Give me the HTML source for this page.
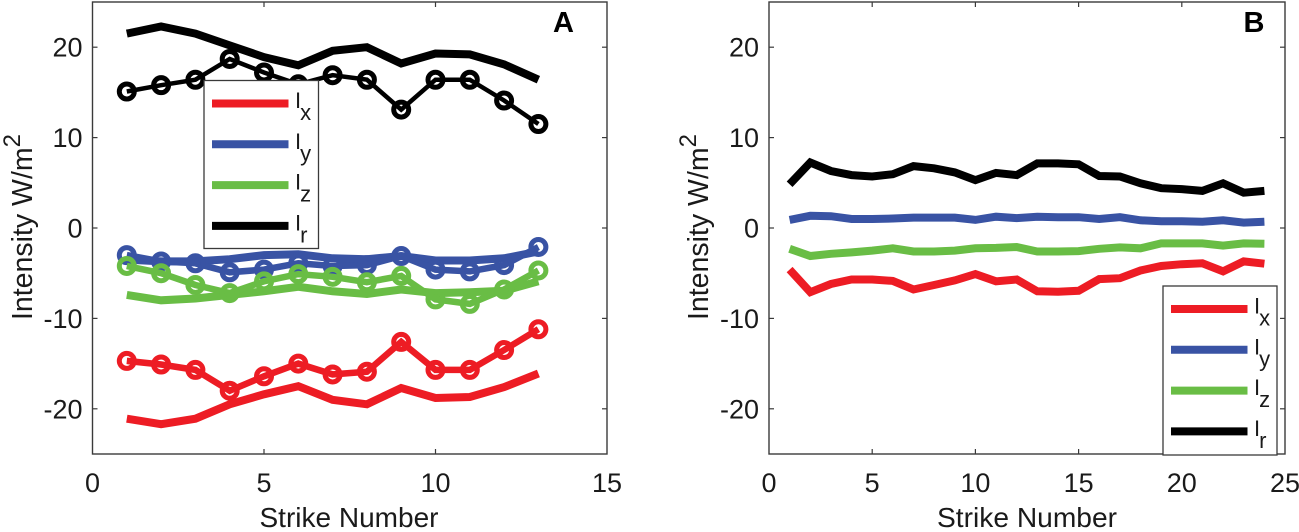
<!DOCTYPE html>
<html>
<head>
<meta charset="utf-8">
<title>Intensity vs Strike Number</title>
<style>
html,body{margin:0;padding:0;background:#fff;width:1299px;height:532px;overflow:hidden}
svg{display:block;font-family:"Liberation Sans",Arial,sans-serif}
</style>
</head>
<body>
<svg id="chart" width="1299" height="532" viewBox="0 0 1299 532" xmlns="http://www.w3.org/2000/svg"></svg>
<script>
// Panel A data
const strikesA = [1,2,3,4,5,6,7,8,9,10,11,12,13];
const aIrPlain = [21.5,22.3,21.5,20.2,18.9,18.0,19.6,20.0,18.2,19.3,19.2,18.1,16.4];
const aIrCircle = [15.1,15.8,16.4,18.7,17.2,15.9,16.9,16.4,13.1,16.4,16.4,14.1,11.5];
const aIyPlain = [-3.5,-3.7,-3.7,-3.45,-3.0,-2.9,-3.35,-3.45,-3.1,-3.6,-3.6,-3.35,-2.6];
const aIyCircle = [-3.0,-3.7,-3.9,-4.9,-4.6,-3.9,-4.2,-4.1,-3.1,-4.6,-4.8,-4.1,-2.1];
const aIzPlain = [-7.4,-8.0,-7.8,-7.4,-7.0,-6.5,-7.0,-7.3,-6.8,-7.2,-7.1,-6.95,-5.9];
const aIzCircle = [-4.2,-5.0,-6.3,-7.2,-5.9,-5.1,-5.4,-6.0,-5.3,-7.9,-8.4,-6.8,-4.7];
const aIxPlain = [-21.1,-21.7,-21.1,-19.5,-18.4,-17.5,-19.0,-19.5,-17.7,-18.8,-18.7,-17.6,-16.1];
const aIxCircle = [-14.7,-15.1,-15.7,-18.0,-16.4,-15.0,-16.2,-15.9,-12.6,-15.7,-15.7,-13.5,-11.2];

// Panel B data
const strikesB = [1,2,3,4,5,6,7,8,9,10,11,12,13,14,15,16,17,18,19,20,21,22,23,24];
const bIr = [4.85,7.25,6.3,5.85,5.7,5.95,6.85,6.6,6.15,5.3,6.1,5.85,7.15,7.15,7.05,5.75,5.7,4.95,4.4,4.3,4.1,4.95,3.9,4.1];
const bIy = [0.9,1.35,1.3,1.0,1.0,1.05,1.15,1.15,1.15,0.9,1.25,1.1,1.25,1.2,1.2,1.0,1.2,0.85,0.75,0.75,0.7,0.85,0.6,0.7];
const bIz = [-2.3,-3.1,-2.85,-2.7,-2.5,-2.25,-2.6,-2.6,-2.5,-2.25,-2.2,-2.1,-2.6,-2.6,-2.55,-2.3,-2.15,-2.25,-1.7,-1.7,-1.7,-1.95,-1.7,-1.75];
const bIx = [-4.6,-7.1,-6.2,-5.7,-5.7,-5.85,-6.8,-6.3,-5.8,-5.1,-5.9,-5.7,-7.0,-7.05,-6.95,-5.65,-5.55,-4.7,-4.2,-4.0,-3.9,-4.8,-3.7,-3.95];

// Ticks and labels
const yTicks = [-20,-10,0,10,20];
const xTicksA = [0,5,10,15];
const xTicksB = [0,5,10,15,20,25];
const legendSubs = ['x','y','z','r'];

const RED = '#ed1c24', BLUE = '#3953a4', GREEN = '#69bd45', BLACK = '#000000', AXIS = '#3a3a3a';
const legendColors = [RED, BLUE, GREEN, BLACK];
const NS = 'http://www.w3.org/2000/svg';
const svg = document.getElementById('chart');

function make(tag, parent, attrs) {
  const el = document.createElementNS(NS, tag);
  for (const k in attrs) el.setAttribute(k, attrs[k]);
  parent.appendChild(el);
  return el;
}

function drawPanel(p) {
  const g = make('g', svg, {});
  
  
  const sx = v => p.left + (v - 0) / p.xMax * (p.right - p.left);
  const sy = v => p.top + (25 - v) / 50 * (p.bottom - p.top);

  // Ticks
  p.xTicks.forEach(t => {
    if (t !== 0 && t !== p.xMax) {
      const t1 = make('line', g, {x1: sx(t), x2: sx(t), y1: p.bottom, y2: p.bottom - 5, stroke: AXIS, 'stroke-width': 1.2});
      
      
      const t2 = make('line', g, {x1: sx(t), x2: sx(t), y1: p.top, y2: p.top + 5, stroke: AXIS, 'stroke-width': 1.2});
      
      
    }
    const lab = make('text', g, {x: sx(t), y: 492, 'text-anchor': 'middle', 'font-size': 27, fill: '#1a1a1a'});
    
    
    lab.textContent = t;
  });
  yTicks.forEach(t => {
    const t1 = make('line', g, {x1: p.left, x2: p.left + 5, y1: sy(t), y2: sy(t), stroke: AXIS, 'stroke-width': 1.2});
    
    
    const t2 = make('line', g, {x1: p.right, x2: p.right - 5, y1: sy(t), y2: sy(t), stroke: AXIS, 'stroke-width': 1.2});
    
    
    const lab = make('text', g, {x: p.left - 10, y: sy(t) + 9.5, 'text-anchor': 'end', 'font-size': 27, fill: '#1a1a1a'});
    
    
    lab.textContent = t;
  });

  // Frame
  const frame = make('rect', g, {x: p.left, y: p.top, width: p.right - p.left, height: p.bottom - p.top, fill: 'none', stroke: AXIS, 'stroke-width': 1.4});
  
  

  // Series
  p.series.forEach(s => {
    const d = s.values.map((v, i) => sx(p.xs[i]).toFixed(1) + ',' + sy(v).toFixed(1)).join(' ');
    const line = make('polyline', g, {points: d, fill: 'none', stroke: s.color, 'stroke-width': s.width, 'stroke-linejoin': 'miter'});
    
    
    if (s.circles) {
      s.values.forEach((v, i) => {
        const c = make('circle', g, {cx: sx(p.xs[i]), cy: sy(v), r: 7.5, fill: 'none', stroke: s.color, 'stroke-width': 5});
        
        
      });
    }
  });

  // Axis titles
  const xt = make('text', g, {x: p.xTitleX, y: 527, 'text-anchor': 'middle', 'font-size': 28, textLength: p.xTitleW, lengthAdjust: 'spacingAndGlyphs', fill: '#1a1a1a'});
  
  
  xt.textContent = 'Strike Number';

  const yt = make('text', g, {transform: 'translate(' + p.yTitleX + ',320) rotate(-90)', 'font-size': 28.5, fill: '#1a1a1a'});
  
  
  yt.textContent = 'Intensity W/m';
  const sup = make('tspan', yt, {dy: -12, 'font-size': 24});
  
  
  sup.textContent = '2';

  // Panel letter
  const letter = make('text', g, {x: p.letterX, y: 32, 'text-anchor': 'middle', 'font-size': 29, 'font-weight': 'bold', fill: '#000'});
  
  
  letter.textContent = p.letter;

  // Legend
  const lg = make('g', g, {});
  
  
  const box = make('rect', lg, {x: p.leg.x, y: p.leg.y, width: p.leg.w, height: p.leg.h, fill: '#fff', stroke: AXIS, 'stroke-width': 1.3});
  
  
  legendSubs.forEach((sub, i) => {
    const y = p.leg.y + 23 + i * 40.8;
    const ln = make('line', lg, {x1: p.leg.x + 8, x2: p.leg.x + 84.5, y1: y, y2: y, stroke: legendColors[i], 'stroke-width': 8});
    
    
    const tx = make('text', lg, {x: p.leg.x + 91, y: y + 4.5, 'font-size': 22, fill: '#1a1a1a'});
    
    
    tx.textContent = 'I';
    const st = make('tspan', tx, {dy: 12, dx: -1, 'font-size': 22});
    
    
    st.textContent = sub;
  });
}

drawPanel({
  letter: 'A', left: 92.5, right: 607, top: 2, bottom: 454, xMax: 15, xs: strikesA,
  xTicks: xTicksA, xTitleX: 349, xTitleW: 179, yTitleX: 32, letterX: 563.5,
  leg: {x: 204, y: 80.5, w: 114.5, h: 168},
  series: [
    {name: 'ir-series-plain', values: aIrPlain, color: BLACK, width: 8},
    {name: 'ir-series-markers', values: aIrCircle, color: BLACK, width: 4.5, circles: true},
    {name: 'iy-series-plain', values: aIyPlain, color: BLUE, width: 8},
    {name: 'iy-series-markers', values: aIyCircle, color: BLUE, width: 6.5, circles: true},
    {name: 'iz-series-plain', values: aIzPlain, color: GREEN, width: 8},
    {name: 'iz-series-markers', values: aIzCircle, color: GREEN, width: 6.5, circles: true},
    {name: 'ix-series-plain', values: aIxPlain, color: RED, width: 8},
    {name: 'ix-series-markers', values: aIxCircle, color: RED, width: 6.5, circles: true}
  ]
});

drawPanel({
  letter: 'B', left: 769, right: 1285, top: 2, bottom: 454, xMax: 25, xs: strikesB,
  xTicks: xTicksB, xTitleX: 1027, xTitleW: 180, yTitleX: 708, letterX: 1254,
  leg: {x: 1163, y: 286, w: 114, h: 169},
  series: [
    {name: 'ir-series', values: bIr, color: BLACK, width: 8},
    {name: 'iy-series', values: bIy, color: BLUE, width: 8},
    {name: 'iz-series', values: bIz, color: GREEN, width: 8},
    {name: 'ix-series', values: bIx, color: RED, width: 8}
  ]
});
</script>
</body>
</html>
